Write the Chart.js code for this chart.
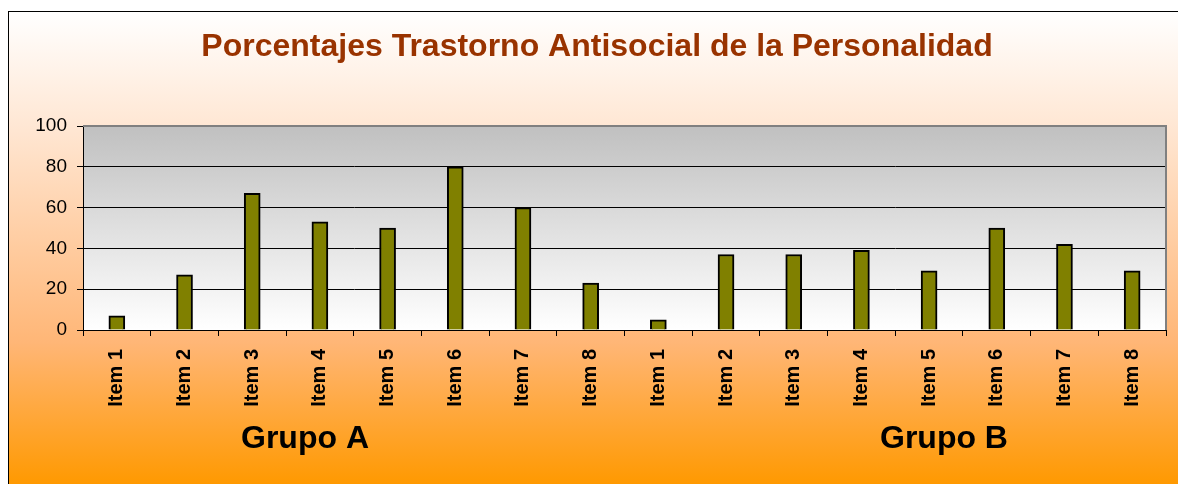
<!DOCTYPE html>
<html>
<head>
<meta charset="utf-8">
<script src="https://cdn.jsdelivr.net/npm/chart.js@4.4.0/dist/chart.umd.min.js"></script>
<style>
  html, body { margin: 0; padding: 0; background: #ffffff; }
  body { width: 1178px; height: 484px; position: relative; overflow: hidden; }
  #frame {
    position: absolute; left: 8px; top: 11px; width: 1170px; height: 473px;
    border-left: 1px solid #000; border-top: 1px solid #000;
    background: linear-gradient(to bottom, #ffffff 0%, #ffe6d2 25%, #ffb676 70%, #ff9900 100%);
  }
  #wrap { position: absolute; left: 0; top: 0; width: 1169px; height: 472px; }
</style>
</head>
<body>
<div id="frame"><div id="wrap"><canvas id="c"></canvas></div></div>
<script>
const titleText = 'Porcentajes Trastorno Antisocial de la Personalidad';
const itemLabels = ['Item 1', 'Item 2', 'Item 3', 'Item 4', 'Item 5', 'Item 6', 'Item 7', 'Item 8'];
const groupNames = ['Grupo A', 'Grupo B'];
const grupoA = [7, 27, 67, 53, 50, 80, 60, 23];
const grupoB = [5, 37, 37, 39, 29, 50, 42, 29];
const yTicks = [0, 20, 40, 60, 80, 100];

const categories = [...itemLabels, ...itemLabels];
const values = [...grupoA, ...grupoB];

const FONT = '"Liberation Sans", Arial, Helvetica, sans-serif';

const plotBg = {
  id: 'plotBg',
  beforeDraw(chart) {
    const { ctx, chartArea: a } = chart;
    const g = ctx.createLinearGradient(0, a.top, 0, a.bottom);
    g.addColorStop(0, '#c0c0c0');
    g.addColorStop(1, '#ffffff');
    ctx.save();
    ctx.fillStyle = g;
    ctx.fillRect(a.left, a.top, a.right - a.left, a.bottom - a.top);
    ctx.restore();
  },
  afterDraw(chart) {
    const { ctx, chartArea: a } = chart;
    ctx.save();
    ctx.strokeStyle = '#808080';
    ctx.lineWidth = 2;
    ctx.beginPath();
    ctx.moveTo(a.left, a.top);
    ctx.lineTo(a.right, a.top);
    ctx.lineTo(a.right, a.bottom);
    ctx.stroke();
    ctx.restore();
  }
};

const groupLabels = {
  id: 'groupLabels',
  afterDraw(chart, args, opts) {
    const { ctx, chartArea: a } = chart;
    ctx.save();
    ctx.font = 'bold 32px ' + FONT;
    ctx.fillStyle = '#000';
    ctx.textAlign = 'center';
    ctx.textBaseline = 'alphabetic';
    groupNames.forEach((name, i) => {
      const x = a.left + (a.right - a.left) * opts.fracs[i];
      ctx.fillText(name, x, a.bottom + opts.offsetY);
    });
    ctx.restore();
  }
};

new Chart(document.getElementById('c'), {
  type: 'bar',
  data: {
    labels: categories,
    datasets: [{
      data: values,
      backgroundColor: '#808000',
      borderColor: '#000000',
      borderWidth: 2,
      barThickness: 16
    }]
  },
  options: {
    responsive: true,
    maintainAspectRatio: false,
    animation: false,
    layout: { padding: { left: 19, right: 12, top: 0, bottom: 0 } },
    plugins: {
      legend: { display: false },
      tooltip: { enabled: false },
      title: {
        display: true,
        text: titleText,
        color: '#993300',
        font: { family: FONT, size: 32, weight: 'bold' },
        padding: { top: 16, bottom: 59.6 }
      },
      groupLabels: { fracs: [0.205, 0.795], offsetY: 118 }
    },
    scales: {
      x: {
        offset: true,
        afterFit(scale) { scale.height = 154; },
        grid: {
          display: true,
          offset: true,
          drawOnChartArea: false,
          drawTicks: true,
          tickLength: 6,
          color: '#000000'
        },
        border: { display: true, color: '#000000', width: 1 },
        ticks: {
          autoSkip: false,
          minRotation: 90,
          maxRotation: 90,
          padding: 13,
          color: '#000000',
          font: { family: FONT, size: 20, weight: 'bold' }
        }
      },
      y: {
        min: 0,
        max: 100,
        afterFit(scale) { scale.width = 55; },
        afterBuildTicks(scale) { scale.ticks = yTicks.map(v => ({ value: v })); },
        grid: {
          color: (c) => (c.tick && c.tick.value === 100) ? 'rgba(0,0,0,0)' : '#000000',
          lineWidth: 1,
          drawTicks: true,
          tickLength: 6,
          tickColor: '#000000'
        },
        border: { display: true, color: '#000000', width: 1 },
        ticks: {
          padding: 10,
          color: '#000000',
          font: { family: FONT, size: 19 }
        }
      }
    }
  },
  plugins: [plotBg, groupLabels]
});
</script>
</body>
</html>
